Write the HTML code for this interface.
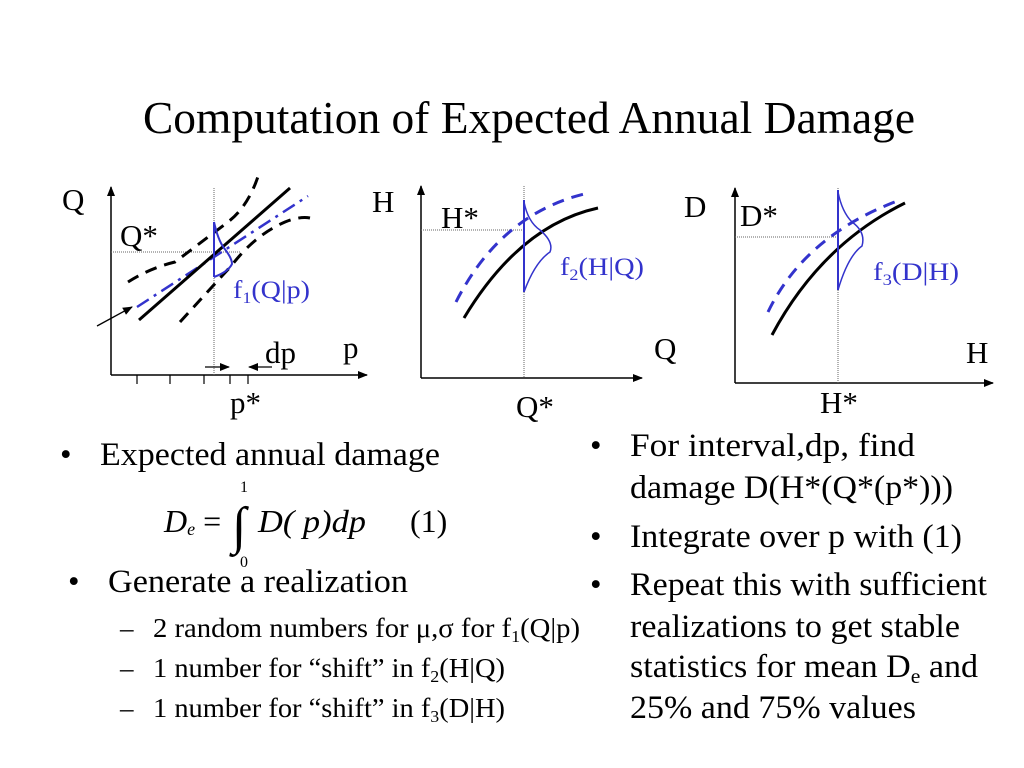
<!DOCTYPE html>
<html><head><meta charset="utf-8">
<style>
html,body{margin:0;padding:0;background:#fff;}
svg{display:block;}
text{font-family:"Liberation Serif","Times New Roman",serif;fill:#000;}
.b{fill:#3333cc;}
</style></head>
<body>
<svg id="s" width="1024" height="768" viewBox="0 0 1024 768">
<defs>
<marker id="ah" markerWidth="10" markerHeight="8" refX="9" refY="4" orient="auto" markerUnits="userSpaceOnUse"><path d="M0,0 L10,4 L0,8 z" fill="#000"/></marker>
</defs>
<text x="143" y="133" font-size="46" textLength="772" lengthAdjust="spacingAndGlyphs">Computation of Expected Annual Damage</text>

<!-- chart 1 -->
<g>
<line x1="111" y1="375" x2="111" y2="187" stroke="#000" stroke-width="1.5" marker-end="url(#ah)"/>
<line x1="111" y1="375" x2="367" y2="375" stroke="#000" stroke-width="1.5" marker-end="url(#ah)"/>
<g stroke="#000" stroke-width="1.2">
<line x1="137" y1="375" x2="137" y2="384"/><line x1="170" y1="375" x2="170" y2="384"/><line x1="204" y1="375" x2="204" y2="384"/><line x1="230" y1="375" x2="230" y2="384"/><line x1="248" y1="375" x2="248" y2="384"/>
</g>
<line x1="214" y1="188" x2="214" y2="375" stroke="#666" stroke-width="1" stroke-dasharray="1,1"/>
<line x1="111" y1="252" x2="240" y2="252" stroke="#666" stroke-width="1" stroke-dasharray="1,1"/>
<g id="c1"></g>
<line x1="97" y1="326" x2="132" y2="307" stroke="#000" stroke-width="1.3" marker-end="url(#ah)"/>
<line x1="205" y1="367" x2="229" y2="367" stroke="#000" stroke-width="1.2" marker-end="url(#ah)"/>
<line x1="272" y1="367" x2="249" y2="367" stroke="#000" stroke-width="1.2" marker-end="url(#ah)"/>
<text x="62" y="210" font-size="31">Q</text>
<text x="120" y="246" font-size="31">Q*</text>
<text x="233" y="298" font-size="25" class="b" textLength="77" lengthAdjust="spacingAndGlyphs">f<tspan font-size="16" dy="5">1</tspan><tspan dy="-5">(Q|p)</tspan></text>
<text x="265" y="363" font-size="31">dp</text>
<text x="343" y="358" font-size="31">p</text>
<text x="230" y="413" font-size="31">p*</text>
</g>

<!-- chart 2 -->
<g>
<line x1="421" y1="378" x2="421" y2="186" stroke="#000" stroke-width="1.5" marker-end="url(#ah)"/>
<line x1="421" y1="378" x2="642" y2="378" stroke="#000" stroke-width="1.5" marker-end="url(#ah)"/>
<line x1="524" y1="186" x2="524" y2="378" stroke="#666" stroke-width="1" stroke-dasharray="1,1"/>
<line x1="421" y1="230" x2="524" y2="230" stroke="#666" stroke-width="1" stroke-dasharray="1,1"/>
<g id="c2"></g>
<text x="372" y="212" font-size="31">H</text>
<text x="441" y="228" font-size="31">H*</text>
<text x="560" y="275" font-size="25" class="b" textLength="84" lengthAdjust="spacingAndGlyphs">f<tspan font-size="16" dy="5">2</tspan><tspan dy="-5">(H|Q)</tspan></text>
<text x="654" y="359" font-size="31">Q</text>
<text x="516" y="417" font-size="31">Q*</text>
</g>

<!-- chart 3 -->
<g>
<line x1="735" y1="383" x2="735" y2="188" stroke="#000" stroke-width="1.5" marker-end="url(#ah)"/>
<line x1="735" y1="383" x2="993" y2="383" stroke="#000" stroke-width="1.5" marker-end="url(#ah)"/>
<line x1="838" y1="188" x2="838" y2="383" stroke="#666" stroke-width="1" stroke-dasharray="1,1"/>
<line x1="735" y1="237" x2="838" y2="237" stroke="#666" stroke-width="1" stroke-dasharray="1,1"/>
<g id="c3"></g>
<text x="684" y="217" font-size="31">D</text>
<text x="740" y="226" font-size="31">D*</text>
<text x="873" y="280" font-size="25" class="b" textLength="86" lengthAdjust="spacingAndGlyphs">f<tspan font-size="16" dy="5">3</tspan><tspan dy="-5">(D|H)</tspan></text>
<text x="966" y="363" font-size="31">H</text>
<text x="820" y="413" font-size="31">H*</text>
</g>

<!-- left text -->
<g font-size="33">
<text x="60" y="465">•</text>
<text x="100" y="465" textLength="340" lengthAdjust="spacingAndGlyphs">Expected annual damage</text>
<text x="240" y="492" font-size="16">1</text>
<text x="240" y="567" font-size="16">0</text>
<text x="164" y="532" font-size="32" font-style="italic">D<tspan font-size="18" dy="3">e</tspan><tspan dy="-3" font-style="normal"> = </tspan></text>
<text x="232" y="543" font-size="52">∫</text>
<text x="258" y="532" font-size="32" font-style="italic" textLength="108" lengthAdjust="spacingAndGlyphs">D( p)dp</text>
<text x="410" y="532" font-size="32">(1)</text>
<text x="68" y="592">•</text>
<text x="108" y="592" textLength="300" lengthAdjust="spacingAndGlyphs">Generate a realization</text>
<g font-size="27">
<text x="120" y="637">–</text>
<text x="153" y="637" textLength="427" lengthAdjust="spacingAndGlyphs">2 random numbers for μ,σ for f<tspan font-size="17" dy="5">1</tspan><tspan dy="-5">(Q|p)</tspan></text>
<text x="120" y="677">–</text>
<text x="153" y="677" textLength="352" lengthAdjust="spacingAndGlyphs">1 number for “shift” in f<tspan font-size="17" dy="5">2</tspan><tspan dy="-5">(H|Q)</tspan></text>
<text x="120" y="717">–</text>
<text x="153" y="717" textLength="352" lengthAdjust="spacingAndGlyphs">1 number for “shift” in f<tspan font-size="17" dy="5">3</tspan><tspan dy="-5">(D|H)</tspan></text>
</g>
</g>

<!-- right text -->
<g font-size="33">
<text x="590" y="456">•</text>
<text x="630" y="456" textLength="285" lengthAdjust="spacingAndGlyphs">For interval,dp, find</text>
<text x="630" y="498" textLength="323" lengthAdjust="spacingAndGlyphs">damage D(H*(Q*(p*)))</text>
<text x="590" y="547">•</text>
<text x="630" y="547" textLength="332" lengthAdjust="spacingAndGlyphs">Integrate over p with (1)</text>
<text x="590" y="595">•</text>
<text x="630" y="595" textLength="357" lengthAdjust="spacingAndGlyphs">Repeat this with sufficient</text>
<text x="630" y="637" textLength="330" lengthAdjust="spacingAndGlyphs">realizations to get stable</text>
<text x="630" y="677" textLength="348" lengthAdjust="spacingAndGlyphs">statistics for mean D<tspan font-size="21" dy="6">e</tspan><tspan dy="-6"> and</tspan></text>
<text x="630" y="718" textLength="286" lengthAdjust="spacingAndGlyphs">25% and 75% values</text>
</g>
</svg>
<script>
// curve control points (pixel geometry of the schematic diagram)
const c1Solid = [[139,320],[290,188]];
const c1Mean = [[137,307],[308,196]];
const c1Upper = "M128,282 Q150,268 175,262 L228,222 Q250,205 260,170";
const c1Lower = "M180,322 L232,265 Q255,235 285,222 Q300,216 310,218";
const c1Pdf = "M214,222 Q218,240 224,248 Q232,258 232,264 Q228,272 214,277";
const c2Solid = "M464,318 Q520,225 598,208";
const c2Shift = "M456,302 Q500,215 584,194";
const c2Pdf = "M524,202 Q528,222 540,230 Q554,242 550,252 Q535,262 524,292";
const c3Solid = "M772,335 Q820,245 905,203";
const c3Shift = "M768,312 Q805,235 900,200";
const c3Pdf = "M838,192 Q842,212 852,222 Q866,232 862,246 Q848,256 838,290";
const NS = "http://www.w3.org/2000/svg";
function add(gid, d, stroke, w, dash, name){
  const p = document.createElementNS(NS,'path');
  p.setAttribute('d', d);
  p.setAttribute('fill','none');
  p.setAttribute('stroke', stroke);
  p.setAttribute('stroke-width', w);
  if (dash) p.setAttribute('stroke-dasharray', dash);
  
  
  document.getElementById(gid).appendChild(p);
}
const L = a => 'M' + a.map(p => p.join(',')).join(' L');
add('c1', c1Upper, '#000', 3, '12,8', 'upper-bound-curve');
add('c1', c1Lower, '#000', 3, '12,8', 'lower-bound-curve');
add('c1', L(c1Mean), '#3333cc', 2.5, '14,6,3,6', 'mean-line');
add('c1', L(c1Solid), '#000', 3, null, 'rating-line');
add('c1', "M214,222 L214,277", '#3333cc', 2, null, 'pdf-base-1');
add('c1', c1Pdf, '#3333cc', 2, null, 'pdf-f1');
add('c2', c2Shift, '#3333cc', 3, '12,8', 'shifted-curve-2');
add('c2', c2Solid, '#000', 3, null, 'stage-curve');
add('c2', "M524,200 L524,292", '#3333cc', 2, null, 'pdf-base-2');
add('c2', c2Pdf, '#3333cc', 1.5, null, 'pdf-f2');
add('c3', c3Shift, '#3333cc', 3, '12,8', 'shifted-curve-3');
add('c3', c3Solid, '#000', 3, null, 'damage-curve');
add('c3', "M838,190 L838,290", '#3333cc', 2, null, 'pdf-base-3');
add('c3', c3Pdf, '#3333cc', 1.5, null, 'pdf-f3');
</script>
</body></html>
